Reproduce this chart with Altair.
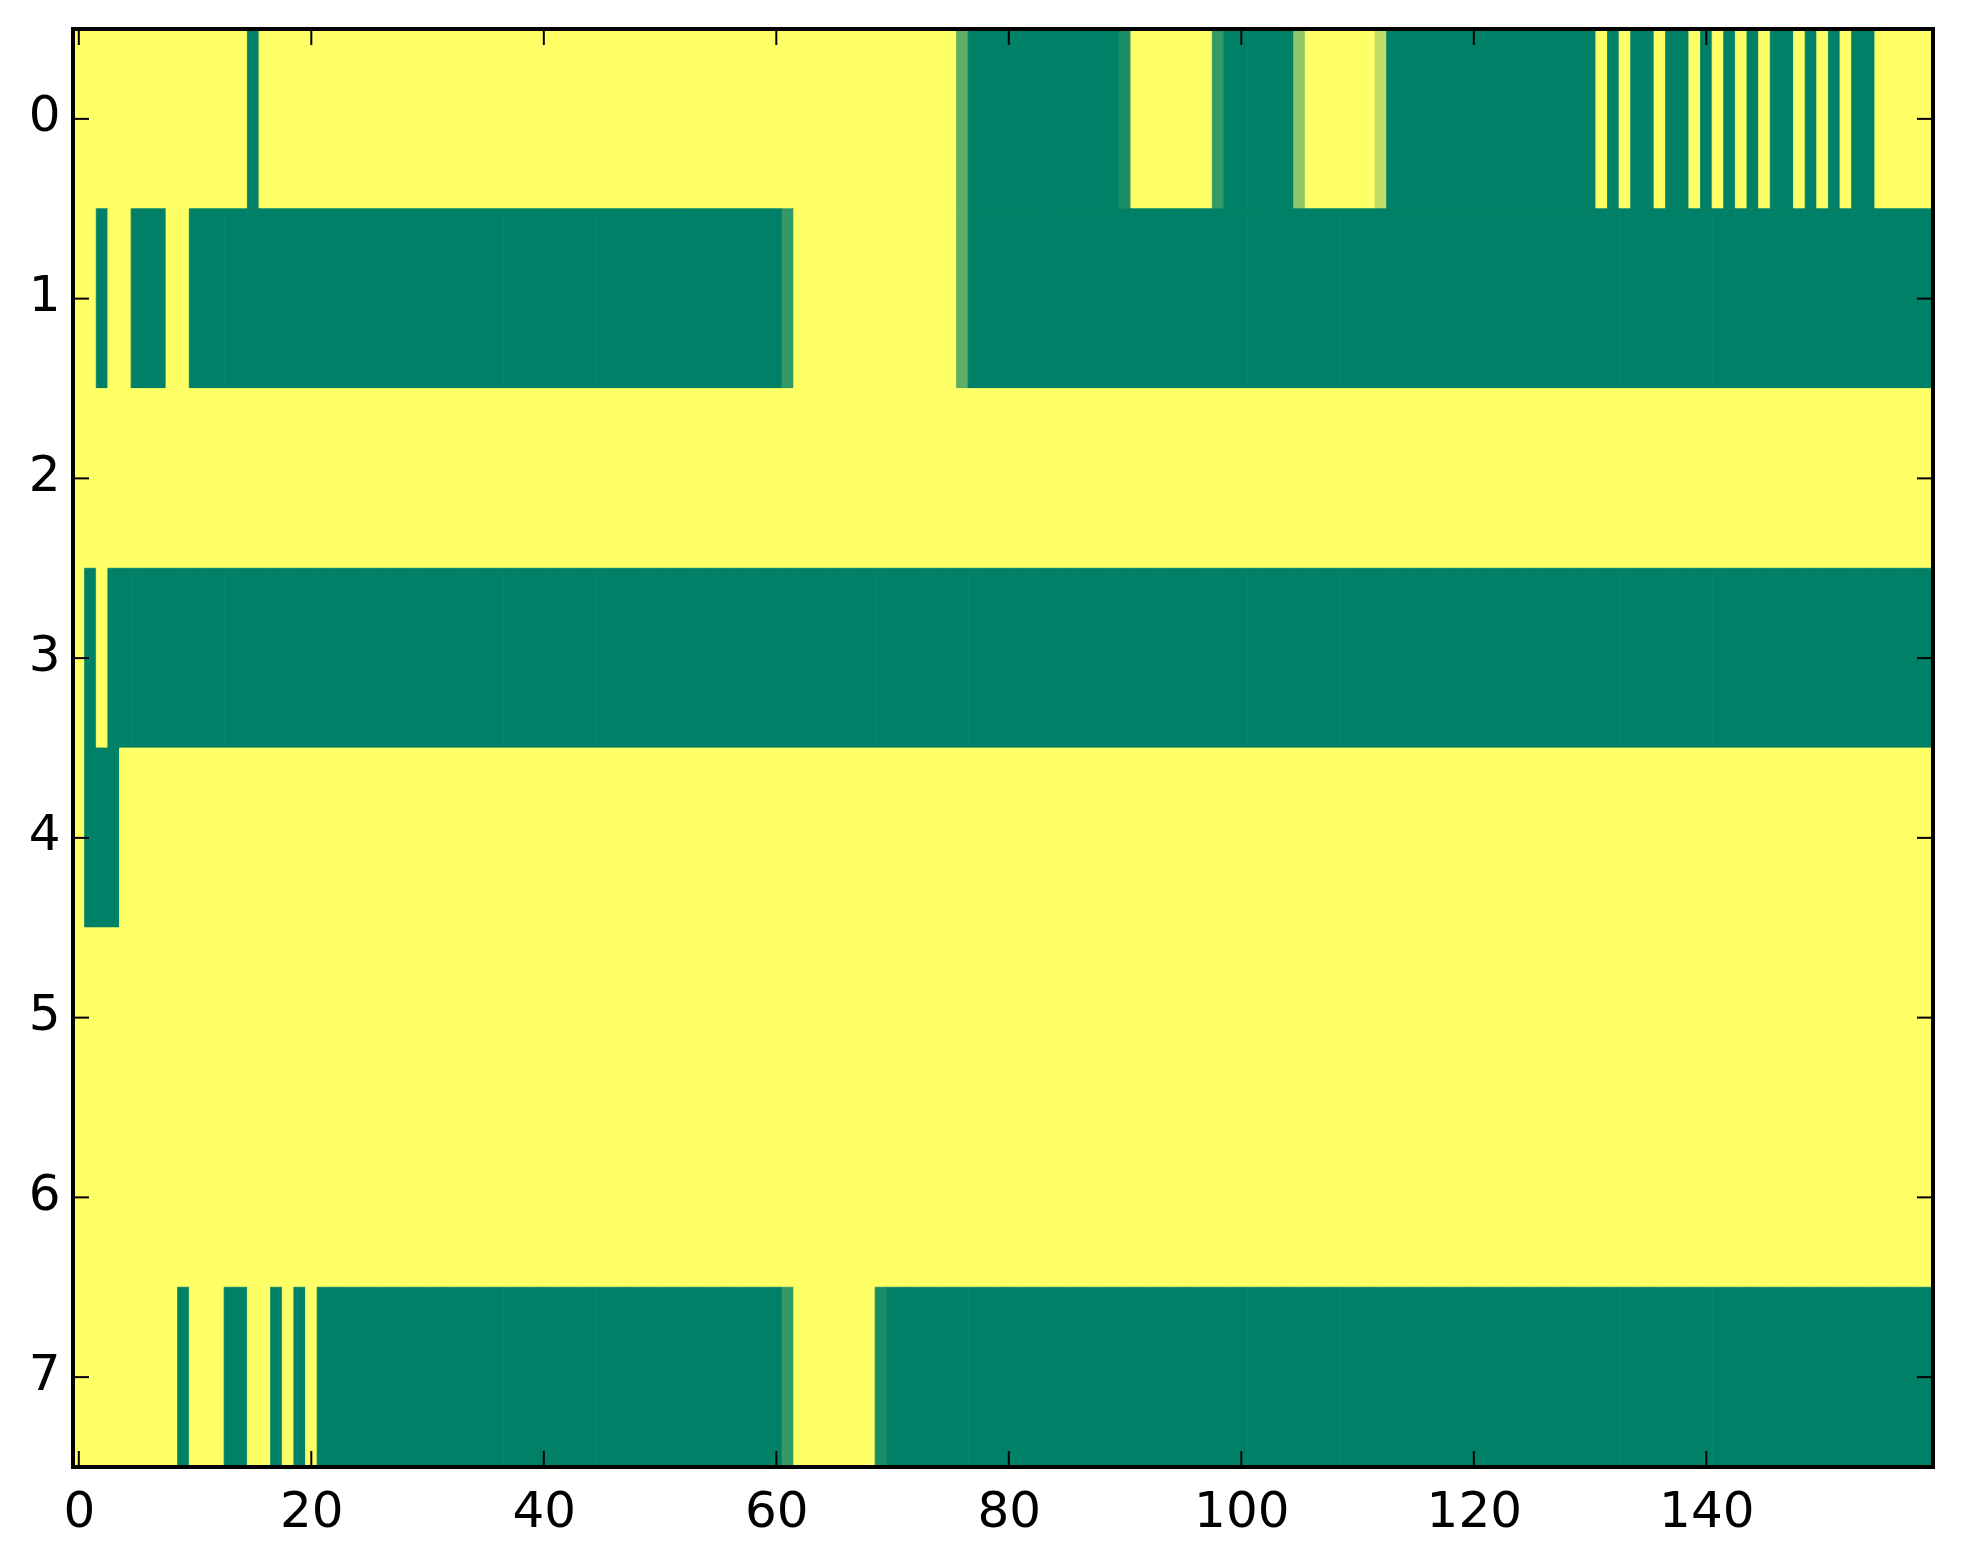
import altair as alt
import pandas as pd

# Matrix values (0 = green, 1 = yellow, summer colormap), one list per row, 160 columns each
ROW0 = ([1] * 15 + [0] + [1] * 60 + [0.37] + [0] * 13 + [0.1] + [1] * 7 + [0.2] + [0] * 6
        + [0.55] + [1] * 6 + [0.75] + [0] * 18
        + [1, 0, 1, 0, 0, 1, 0, 0, 1, 0, 1, 0, 1, 0, 1, 0, 0, 1, 0, 1, 0, 1, 0, 0] + [1] * 5)
ROW1 = [1, 1, 0, 1, 1, 0, 0, 0, 1, 1] + [0] * 51 + [0.2] + [1] * 14 + [0.37] + [0] * 83
ROW2 = [1] * 160
ROW3 = [1, 0, 1] + [0] * 157
ROW4 = [1, 0, 0, 0] + [1] * 156
ROW5 = [1] * 160
ROW6 = [1] * 160
ROW7 = ([1] * 9 + [0] + [1] * 3 + [0] * 2 + [1] * 2 + [0] + [1] + [0] + [1] + [0] * 40
        + [0.2] + [1] * 7 + [0.1] + [0] * 90)

ROWS = [ROW0, ROW1, ROW2, ROW3, ROW4, ROW5, ROW6, ROW7]
X_TICKS = [0, 20, 40, 60, 80, 100, 120, 140]
Y_TICKS = [0, 1, 2, 3, 4, 5, 6, 7]

records = []
for r, row in enumerate(ROWS):
    assert len(row) == 160, (r, len(row))
    for c, v in enumerate(row):
        records.append({"x0": c - 0.5, "x1": c + 0.5, "y0": r - 0.5, "y1": r + 0.5, "v": v})
cells = pd.DataFrame(records)

W, H = 1860, 1438
FONT = "DejaVu Sans"
FS = 50
TL = 16  # tick length

xscale = alt.Scale(domain=[-0.5, 159.5], nice=False, zero=False)
yscale = alt.Scale(domain=[-0.5, 7.5], nice=False, zero=False, reverse=True)
cscale = alt.Scale(domain=[0, 1], range=["#008066", "#ffff66"], interpolate="rgb")

xaxis = alt.Axis(values=X_TICKS, title="", grid=False, ticks=False, domain=False,
                 labelFont=FONT, labelFontSize=FS, labelColor="black", labelPadding=19,
                 labelFlush=False, labelOverlap=False)
yaxis = alt.Axis(values=Y_TICKS, title="", grid=False, ticks=False, domain=False,
                 labelFont=FONT, labelFontSize=FS, labelColor="black", labelPadding=13,
                 labelOffset=-3, labelOverlap=False)

heat = alt.Chart(cells).mark_rect(strokeWidth=0.8).encode(
    x=alt.X("x0:Q", scale=xscale, axis=xaxis),
    x2="x1:Q",
    y=alt.Y("y0:Q", scale=yscale, axis=yaxis),
    y2="y1:Q",
    color=alt.Color("v:Q", scale=cscale, legend=None),
    stroke=alt.Stroke("v:Q", scale=cscale, legend=None),
)

xt = pd.DataFrame({"x0": X_TICKS})
yt = pd.DataFrame({"y0": Y_TICKS})

top_ticks = alt.Chart(xt).mark_rule(color="black", strokeWidth=2).encode(
    x=alt.X("x0:Q", scale=xscale, axis=xaxis), y=alt.value(0), y2=alt.value(TL))
bot_ticks = alt.Chart(xt).mark_rule(color="black", strokeWidth=2).encode(
    x=alt.X("x0:Q", scale=xscale, axis=xaxis), y=alt.value(H), y2=alt.value(H - TL))
left_ticks = alt.Chart(yt).mark_rule(color="black", strokeWidth=2).encode(
    y=alt.Y("y0:Q", scale=yscale, axis=yaxis), x=alt.value(0), x2=alt.value(TL))
right_ticks = alt.Chart(yt).mark_rule(color="black", strokeWidth=2).encode(
    y=alt.Y("y0:Q", scale=yscale, axis=yaxis), x=alt.value(W - TL), x2=alt.value(W))

frame = alt.Chart(pd.DataFrame({"k": [0]})).mark_rect(
    fill=None, fillOpacity=0, stroke="black", strokeWidth=4
).encode(x=alt.value(0), x2=alt.value(W), y=alt.value(0), y2=alt.value(H))

chart = alt.layer(heat, top_ticks, bot_ticks, left_ticks, right_ticks, frame).properties(
    width=W, height=H,
    autosize=alt.AutoSizeParams(type="none"),
    padding={"left": 65, "top": 21, "right": 20, "bottom": 70},
).configure_view(stroke="black", strokeWidth=4).configure(background="white")

chart.save("out.html", embed_options={"renderer": "svg", "actions": False})
